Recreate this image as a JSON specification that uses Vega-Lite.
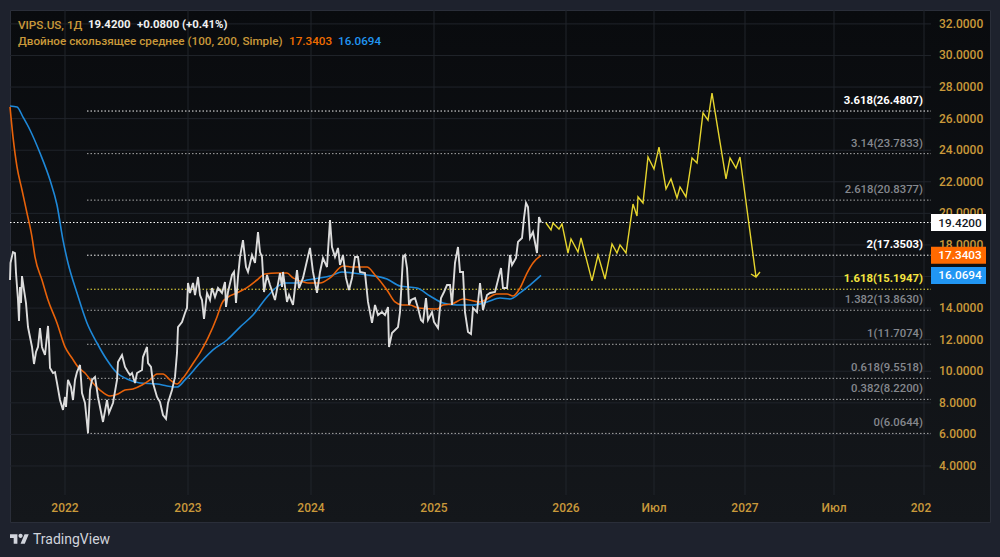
{
  "$schema": "https://vega.github.io/schema/vega-lite/v6.json",
  "width": 980,
  "height": 512,
  "autosize": {"type": "none"},
  "padding": {"left": 10, "top": 10, "right": 10, "bottom": 35},
  "background": "#1e222d",
  "view": {
    "stroke": "#2a2e39",
    "fill": {
      "gradient": "linear", "x1": 0, "y1": 0, "x2": 0, "y2": 1,
      "stops": [{"offset": 0, "color": "#090b0e"}, {"offset": 1, "color": "#14171b"}]
    }
  },
  "config": {"font": "Roboto"},
  "datasets": {
    "gridY": [{"price":4},{"price":6},{"price":8},{"price":10},{"price":12},{"price":14},{"price":16},{"price":18},{"price":20},{"price":22},{"price":24},{"price":26},{"price":28},{"price":30},{"price":32}],
    "gridX": [{"bar":110},{"bar":356},{"bar":602},{"bar":848},{"bar":1112},{"bar":1288},{"bar":1470},{"bar":1648},{"bar":1828}],
    "timeLabels": [{"bar":110,"label":"2022"},{"bar":356,"label":"2023"},{"bar":602,"label":"2024"},{"bar":848,"label":"2025"},{"bar":1112,"label":"2026"},{"bar":1288,"label":"Июл"},{"bar":1470,"label":"2027"},{"bar":1648,"label":"Июл"},{"bar":1822,"label":"202"}],
    "fib": [
      {"price":26.4807,"label":"3.618(26.4807)","tone":"bright"},
      {"price":23.7833,"label":"3.14(23.7833)","tone":"dim"},
      {"price":20.8377,"label":"2.618(20.8377)","tone":"dim"},
      {"price":17.3503,"label":"2(17.3503)","tone":"bright"},
      {"price":15.1947,"label":"1.618(15.1947)","tone":"gold"},
      {"price":13.863,"label":"1.382(13.8630)","tone":"dim"},
      {"price":11.7074,"label":"1(11.7074)","tone":"dim"},
      {"price":9.5518,"label":"0.618(9.5518)","tone":"dim"},
      {"price":8.22,"label":"0.382(8.2200)","tone":"dim"},
      {"price":6.0644,"label":"0(6.0644)","tone":"dim"}
    ],
    "last": [{"price":19.42}],
    "tags": [
      {"price":19.42,"tag":"19.4200","tone":"close"},
      {"price":17.3403,"tag":"17.3403","tone":"ma100"},
      {"price":16.0694,"tag":"16.0694","tone":"ma200"}
    ],
    "header": [
      {"bar":16,"price":31.93,"text":"VIPS.US, 1Д","tone":"gold","weight":"normal"},
      {"bar":156,"price":31.93,"text":"19.4200","tone":"white","weight":"bold"},
      {"bar":254,"price":31.93,"text":"+0.0800 (+0.41%)","tone":"white","weight":"bold"},
      {"bar":16,"price":30.92,"text":"Двойное скользящее среднее (100, 200, Simple)","tone":"gold","weight":"normal"},
      {"bar":558,"price":30.92,"text":"17.3403","tone":"orange","weight":"normal"},
      {"bar":656,"price":30.92,"text":"16.0694","tone":"blue","weight":"normal"}
    ],
    "brand": [{"bar":46,"price":-0.69,"text":"TradingView","logoBar":19,"logoPrice":-0.62}],
    "close": [
      {"bar":0,"close":15.78},{"bar":1,"close":16.86},{"bar":6,"close":17.55},{"bar":10,"close":17.49},{"bar":12,"close":16.22},{"bar":16,"close":14.51},{"bar":18,"close":13.18},{"bar":20,"close":15.34},{"bar":22,"close":14.32},{"bar":24,"close":16.03},{"bar":28,"close":15.15},{"bar":32,"close":14.32},{"bar":36,"close":12.8},{"bar":40,"close":12.17},{"bar":44,"close":11.54},{"bar":48,"close":10.46},{"bar":52,"close":11.22},{"bar":56,"close":11.54},{"bar":60,"close":12.74},{"bar":64,"close":11.54},{"bar":66,"close":11.35},{"bar":70,"close":11.03},{"bar":76,"close":12.87},{"bar":78,"close":11.79},{"bar":80,"close":10.21},{"bar":86,"close":9.89},{"bar":90,"close":9.95},{"bar":94,"close":9.26},{"bar":100,"close":8.18},{"bar":106,"close":7.55},{"bar":110,"close":8.37},{"bar":112,"close":7.74},{"bar":116,"close":9.45},{"bar":122,"close":9.0},{"bar":126,"close":8.18},{"bar":130,"close":9.45},{"bar":134,"close":9.95},{"bar":140,"close":10.4},{"bar":144,"close":8.62},{"bar":150,"close":7.99},{"bar":156,"close":6.09},{"bar":160,"close":8.81},{"bar":164,"close":9.45},{"bar":170,"close":9.64},{"bar":176,"close":8.37},{"bar":186,"close":6.79},{"bar":194,"close":8.18},{"bar":198,"close":7.36},{"bar":206,"close":7.99},{"bar":214,"close":9.45},{"bar":216,"close":10.59},{"bar":224,"close":11.03},{"bar":230,"close":10.27},{"bar":236,"close":9.95},{"bar":240,"close":9.76},{"bar":244,"close":9.89},{"bar":250,"close":9.26},{"bar":254,"close":9.89},{"bar":264,"close":10.08},{"bar":266,"close":10.9},{"bar":274,"close":11.54},{"bar":276,"close":10.52},{"bar":282,"close":10.27},{"bar":286,"close":9.26},{"bar":294,"close":8.37},{"bar":300,"close":8.05},{"bar":306,"close":7.23},{"bar":312,"close":6.98},{"bar":316,"close":7.99},{"bar":324,"close":8.81},{"bar":330,"close":9.64},{"bar":334,"close":11.16},{"bar":336,"close":12.8},{"bar":344,"close":13.12},{"bar":350,"close":13.69},{"bar":354,"close":14.01},{"bar":356,"close":15.59},{"bar":360,"close":14.96},{"bar":366,"close":15.59},{"bar":370,"close":14.83},{"bar":376,"close":15.97},{"bar":380,"close":14.83},{"bar":384,"close":14.51},{"bar":388,"close":13.31},{"bar":394,"close":14.96},{"bar":400,"close":14.51},{"bar":404,"close":15.27},{"bar":410,"close":14.7},{"bar":416,"close":15.27},{"bar":424,"close":14.96},{"bar":430,"close":15.65},{"bar":432,"close":14.07},{"bar":436,"close":15.02},{"bar":444,"close":16.1},{"bar":448,"close":16.29},{"bar":452,"close":14.32},{"bar":456,"close":15.97},{"bar":460,"close":17.24},{"bar":466,"close":18.31},{"bar":472,"close":16.6},{"bar":476,"close":16.29},{"bar":484,"close":17.36},{"bar":490,"close":16.86},{"bar":496,"close":18.82},{"bar":500,"close":17.55},{"bar":504,"close":17.24},{"bar":508,"close":15.02},{"bar":514,"close":16.1},{"bar":520,"close":15.46},{"bar":530,"close":14.51},{"bar":540,"close":16.22},{"bar":544,"close":15.34},{"bar":546,"close":16.29},{"bar":554,"close":14.39},{"bar":558,"close":14.83},{"bar":566,"close":14.2},{"bar":574,"close":16.41},{"bar":578,"close":15.27},{"bar":586,"close":15.91},{"bar":592,"close":16.73},{"bar":600,"close":17.81},{"bar":606,"close":16.29},{"bar":614,"close":14.96},{"bar":620,"close":16.29},{"bar":626,"close":17.17},{"bar":634,"close":16.6},{"bar":640,"close":19.58},{"bar":644,"close":17.87},{"bar":650,"close":17.24},{"bar":656,"close":17.81},{"bar":660,"close":16.73},{"bar":666,"close":17.36},{"bar":672,"close":15.91},{"bar":678,"close":15.15},{"bar":684,"close":15.91},{"bar":690,"close":17.24},{"bar":696,"close":17.24},{"bar":700,"close":16.29},{"bar":710,"close":16.22},{"bar":716,"close":14.39},{"bar":724,"close":13.06},{"bar":730,"close":14.2},{"bar":736,"close":13.56},{"bar":744,"close":13.75},{"bar":750,"close":13.56},{"bar":756,"close":14.07},{"bar":758,"close":11.54},{"bar":764,"close":12.42},{"bar":776,"close":12.8},{"bar":780,"close":13.75},{"bar":786,"close":17.24},{"bar":790,"close":17.36},{"bar":794,"close":16.54},{"bar":796,"close":15.46},{"bar":798,"close":14.2},{"bar":802,"close":14.51},{"bar":810,"close":14.64},{"bar":816,"close":14.01},{"bar":822,"close":13.25},{"bar":826,"close":13.12},{"bar":832,"close":14.64},{"bar":836,"close":13.25},{"bar":844,"close":13.75},{"bar":848,"close":13.12},{"bar":856,"close":12.74},{"bar":862,"close":14.64},{"bar":868,"close":15.02},{"bar":874,"close":15.46},{"bar":880,"close":15.46},{"bar":884,"close":14.2},{"bar":890,"close":16.86},{"bar":896,"close":17.87},{"bar":900,"close":16.29},{"bar":906,"close":16.29},{"bar":910,"close":13.75},{"bar":916,"close":12.49},{"bar":922,"close":12.36},{"bar":926,"close":14.01},{"bar":934,"close":13.75},{"bar":940,"close":15.59},{"bar":946,"close":13.88},{"bar":954,"close":14.83},{"bar":960,"close":14.96},{"bar":970,"close":15.02},{"bar":982,"close":16.54},{"bar":986,"close":15.27},{"bar":994,"close":15.27},{"bar":1000,"close":17.36},{"bar":1004,"close":16.73},{"bar":1012,"close":17.17},{"bar":1016,"close":18.19},{"bar":1024,"close":18.44},{"bar":1028,"close":19.71},{"bar":1032,"close":20.66},{"bar":1036,"close":20.4},{"bar":1040,"close":18.44},{"bar":1046,"close":18.82},{"bar":1054,"close":17.49},{"bar":1058,"close":19.77},{"bar":1062,"close":19.42}
    ],
    "ma100": [
      {"bar":0,"ma":26.74},{"bar":6,"ma":24.84},{"bar":14,"ma":22.94},{"bar":24,"ma":21.48},{"bar":34,"ma":20.02},{"bar":44,"ma":18.5},{"bar":50,"ma":17.24},{"bar":64,"ma":15.78},{"bar":76,"ma":14.51},{"bar":94,"ma":13.06},{"bar":110,"ma":11.54},{"bar":124,"ma":10.84},{"bar":136,"ma":10.27},{"bar":150,"ma":9.89},{"bar":164,"ma":9.32},{"bar":180,"ma":8.81},{"bar":200,"ma":8.43},{"bar":216,"ma":8.56},{"bar":230,"ma":8.81},{"bar":246,"ma":8.88},{"bar":264,"ma":9.13},{"bar":280,"ma":9.45},{"bar":294,"ma":9.83},{"bar":306,"ma":9.83},{"bar":320,"ma":9.45},{"bar":334,"ma":9.19},{"bar":346,"ma":9.57},{"bar":364,"ma":10.4},{"bar":380,"ma":11.16},{"bar":396,"ma":12.11},{"bar":414,"ma":13.44},{"bar":424,"ma":14.32},{"bar":436,"ma":14.7},{"bar":454,"ma":14.96},{"bar":476,"ma":15.34},{"bar":494,"ma":15.78},{"bar":510,"ma":16.16},{"bar":534,"ma":16.22},{"bar":554,"ma":16.22},{"bar":566,"ma":15.91},{"bar":580,"ma":15.72},{"bar":596,"ma":15.59},{"bar":620,"ma":15.59},{"bar":640,"ma":15.91},{"bar":666,"ma":16.67},{"bar":686,"ma":16.6},{"bar":714,"ma":16.6},{"bar":730,"ma":16.1},{"bar":754,"ma":15.15},{"bar":770,"ma":14.39},{"bar":784,"ma":14.2},{"bar":800,"ma":14.2},{"bar":816,"ma":14.01},{"bar":854,"ma":13.94},{"bar":866,"ma":14.2},{"bar":884,"ma":14.26},{"bar":906,"ma":14.58},{"bar":940,"ma":14.39},{"bar":974,"ma":14.89},{"bar":994,"ma":14.89},{"bar":1006,"ma":14.77},{"bar":1020,"ma":15.27},{"bar":1034,"ma":16.22},{"bar":1046,"ma":16.86},{"bar":1062,"ma":17.34}
    ],
    "ma200": [
      {"bar":0,"ma":26.8},{"bar":14,"ma":26.74},{"bar":26,"ma":26.1},{"bar":40,"ma":25.28},{"bar":60,"ma":23.82},{"bar":80,"ma":22.11},{"bar":94,"ma":20.53},{"bar":106,"ma":18.31},{"bar":116,"ma":16.86},{"bar":134,"ma":14.96},{"bar":154,"ma":13.06},{"bar":174,"ma":11.79},{"bar":194,"ma":10.71},{"bar":214,"ma":9.89},{"bar":234,"ma":9.51},{"bar":260,"ma":9.26},{"bar":294,"ma":9.19},{"bar":314,"ma":9.07},{"bar":334,"ma":9.0},{"bar":350,"ma":9.45},{"bar":380,"ma":10.52},{"bar":406,"ma":11.35},{"bar":434,"ma":11.98},{"bar":460,"ma":12.8},{"bar":486,"ma":13.56},{"bar":514,"ma":14.7},{"bar":534,"ma":15.34},{"bar":550,"ma":15.59},{"bar":574,"ma":15.59},{"bar":594,"ma":15.78},{"bar":620,"ma":15.91},{"bar":640,"ma":16.03},{"bar":664,"ma":16.29},{"bar":686,"ma":16.22},{"bar":714,"ma":16.1},{"bar":754,"ma":15.84},{"bar":780,"ma":15.4},{"bar":814,"ma":15.27},{"bar":840,"ma":14.77},{"bar":866,"ma":14.32},{"bar":894,"ma":14.2},{"bar":926,"ma":14.2},{"bar":954,"ma":14.39},{"bar":980,"ma":14.64},{"bar":1000,"ma":14.58},{"bar":1020,"ma":14.96},{"bar":1040,"ma":15.46},{"bar":1062,"ma":16.07}
    ],
    "projection": [
      {"bar":1072,"price":19.39},{"bar":1082,"price":18.95},{"bar":1086,"price":19.39},{"bar":1098,"price":19.01},{"bar":1104,"price":19.33},{"bar":1116,"price":17.49},{"bar":1122,"price":18.38},{"bar":1136,"price":17.55},{"bar":1142,"price":18.44},{"bar":1164,"price":15.72},{"bar":1176,"price":17.36},{"bar":1190,"price":15.84},{"bar":1204,"price":18.06},{"bar":1214,"price":17.49},{"bar":1220,"price":18.0},{"bar":1232,"price":17.49},{"bar":1246,"price":20.59},{"bar":1254,"price":19.83},{"bar":1256,"price":21.04},{"bar":1266,"price":20.66},{"bar":1276,"price":23.57},{"bar":1288,"price":22.81},{"bar":1298,"price":24.2},{"bar":1312,"price":21.54},{"bar":1322,"price":22.18},{"bar":1334,"price":20.97},{"bar":1340,"price":21.67},{"bar":1352,"price":21.04},{"bar":1364,"price":23.51},{"bar":1374,"price":23.19},{"bar":1386,"price":26.36},{"bar":1396,"price":25.91},{"bar":1404,"price":27.62},{"bar":1432,"price":22.18},{"bar":1440,"price":23.51},{"bar":1452,"price":22.87},{"bar":1460,"price":23.57},{"bar":1492,"price":15.97},{"bar":1482,"price":16.16},{"bar":1492,"price":15.97},{"bar":1500,"price":16.29}
    ]
  },
  "layer": [
    {
      "data": {"name": "gridY"},
      "mark": {"type": "rule", "color": "#20242b", "strokeWidth": 1},
      "encoding": {
        "x": {"datum": 0, "type": "quantitative", "axis": null, "scale": {"domain": [0, 1960], "nice": false, "zero": false}},
        "x2": {"datum": 1842},
        "y": {"field": "price", "type": "quantitative", "axis": null, "scale": {"domain": [0.453, 32.88], "nice": false, "zero": false}}
      }
    },
    {
      "data": {"name": "gridX"},
      "mark": {"type": "rule", "color": "#20242b", "strokeWidth": 1},
      "encoding": {
        "x": {"field": "bar", "type": "quantitative", "axis": null},
        "y": {"datum": 32.88, "type": "quantitative", "axis": null},
        "y2": {"datum": 2.16}
      }
    },
    {
      "data": {"name": "gridY"},
      "mark": {"type": "text", "align": "left", "fontSize": 12, "fontWeight": 500, "color": "#c9993a"},
      "encoding": {
        "x": {"datum": 1858, "type": "quantitative", "axis": null},
        "y": {"field": "price", "type": "quantitative", "axis": null},
        "text": {"field": "price", "type": "quantitative", "format": ".4f"}
      }
    },
    {
      "data": {"name": "timeLabels"},
      "mark": {"type": "text", "align": "center", "fontSize": 12, "fontWeight": 500, "color": "#c9993a"},
      "encoding": {
        "x": {"field": "bar", "type": "quantitative", "axis": null},
        "y": {"datum": 1.34, "type": "quantitative", "axis": null},
        "text": {"field": "label"}
      }
    },
    {
      "data": {"name": "fib"},
      "mark": {"type": "rule", "strokeWidth": 1, "strokeDash": [1.5, 2]},
      "encoding": {
        "x": {"datum": 154, "type": "quantitative", "axis": null},
        "x2": {"datum": 1842},
        "y": {"field": "price", "type": "quantitative", "axis": null},
        "color": {"field": "tone", "type": "nominal", "legend": null,
          "scale": {"domain": ["bright", "dim", "gold"], "range": ["#f0f0f0", "#a8a8a8", "#f2e23e"]}}
      }
    },
    {
      "data": {"name": "last"},
      "mark": {"type": "rule", "color": "#ffffff", "strokeWidth": 1, "strokeDash": [1.5, 2]},
      "encoding": {
        "x": {"datum": 0, "type": "quantitative", "axis": null},
        "x2": {"datum": 1842},
        "y": {"field": "price", "type": "quantitative", "axis": null}
      }
    },
    {
      "data": {"name": "ma200"},
      "mark": {"type": "line", "color": "#1e88d8", "strokeWidth": 1.6, "interpolate": "monotone"},
      "encoding": {
        "x": {"field": "bar", "type": "quantitative", "axis": null},
        "y": {"field": "ma", "type": "quantitative", "axis": null}
      }
    },
    {
      "data": {"name": "ma100"},
      "mark": {"type": "line", "color": "#e8620a", "strokeWidth": 1.6, "interpolate": "monotone"},
      "encoding": {
        "x": {"field": "bar", "type": "quantitative", "axis": null},
        "y": {"field": "ma", "type": "quantitative", "axis": null}
      }
    },
    {
      "data": {"name": "close"},
      "mark": {"type": "line", "color": "#dcdcdc", "strokeWidth": 1.9},
      "encoding": {
        "x": {"field": "bar", "type": "quantitative", "axis": null},
        "y": {"field": "close", "type": "quantitative", "axis": null}
      }
    },
    {
      "data": {"name": "projection"},
      "mark": {"type": "line", "color": "#e6d52e", "strokeWidth": 1.4},
      "encoding": {
        "x": {"field": "bar", "type": "quantitative", "axis": null},
        "y": {"field": "price", "type": "quantitative", "axis": null},
        "order": {"value": null}
      }
    },
    {
      "data": {"name": "fib"},
      "transform": [{"filter": "datum.tone != 'dim'"}],
      "mark": {"type": "text", "align": "right", "dy": -10, "fontSize": 11.3, "fontWeight": "bold"},
      "encoding": {
        "x": {"datum": 1826, "type": "quantitative", "axis": null},
        "y": {"field": "price", "type": "quantitative", "axis": null},
        "text": {"field": "label"},
        "color": {"field": "tone", "type": "nominal", "legend": null,
          "scale": {"domain": ["bright", "gold"], "range": ["#ffffff", "#f5e53f"]}}
      }
    },
    {
      "data": {"name": "fib"},
      "transform": [{"filter": "datum.tone == 'dim'"}],
      "mark": {"type": "text", "align": "right", "dy": -10, "fontSize": 11.3, "fontWeight": 500, "color": "#85888e"},
      "encoding": {
        "x": {"datum": 1826, "type": "quantitative", "axis": null},
        "y": {"field": "price", "type": "quantitative", "axis": null},
        "text": {"field": "label"}
      }
    },
    {
      "data": {"name": "tags"},
      "mark": {"type": "rule", "strokeWidth": 17},
      "encoding": {
        "x": {"datum": 1842, "type": "quantitative", "axis": null},
        "x2": {"datum": 1952},
        "y": {"field": "price", "type": "quantitative", "axis": null},
        "color": {"field": "tone", "type": "nominal", "legend": null,
          "scale": {"domain": ["close", "ma100", "ma200"], "range": ["#ffffff", "#ff6a00", "#2196f3"]}}
      }
    },
    {
      "data": {"name": "tags"},
      "mark": {"type": "text", "align": "center", "fontSize": 11.8, "fontWeight": 500},
      "encoding": {
        "x": {"datum": 1900, "type": "quantitative", "axis": null},
        "y": {"field": "price", "type": "quantitative", "axis": null},
        "text": {"field": "tag"},
        "color": {"field": "tone", "type": "nominal", "legend": null,
          "scale": {"domain": ["close", "ma100", "ma200"], "range": ["#131722", "#ffffff", "#ffffff"]}}
      }
    },
    {
      "data": {"name": "header"},
      "transform": [{"filter": "datum.weight == 'normal'"}],
      "mark": {"type": "text", "align": "left", "fontSize": 11.7, "fontWeight": 500},
      "encoding": {
        "x": {"field": "bar", "type": "quantitative", "axis": null},
        "y": {"field": "price", "type": "quantitative", "axis": null},
        "text": {"field": "text"},
        "color": {"field": "tone", "type": "nominal", "legend": null,
          "scale": {"domain": ["gold", "orange", "blue"], "range": ["#c9993a", "#ef6c00", "#2196f3"]}}
      }
    },
    {
      "data": {"name": "header"},
      "transform": [{"filter": "datum.weight == 'bold'"}],
      "mark": {"type": "text", "align": "left", "fontSize": 11.4, "fontWeight": "bold", "color": "#f0f0f0"},
      "encoding": {
        "x": {"field": "bar", "type": "quantitative", "axis": null},
        "y": {"field": "price", "type": "quantitative", "axis": null},
        "text": {"field": "text"}
      }
    },
    {
      "data": {"name": "brand"},
      "mark": {"type": "text", "align": "left", "fontSize": 14, "color": "#d1d4dc"},
      "encoding": {
        "x": {"field": "bar", "type": "quantitative", "axis": null},
        "y": {"field": "price", "type": "quantitative", "axis": null},
        "text": {"field": "text"}
      }
    },
    {
      "data": {"name": "brand"},
      "mark": {
        "type": "point", "filled": true, "opacity": 1, "color": "#d1d4dc", "size": 361,
        "shape": "M-0.222,0.5H-0.612V-0.112H-1V-0.5H-0.222ZM0.556,0.5H0.112L0.528,-0.5H0.972ZM-0.11,-0.334a0.222,0.222 0 1,0 0.444,0a0.222,0.222 0 1,0 -0.444,0Z"
      },
      "encoding": {
        "x": {"field": "logoBar", "type": "quantitative", "axis": null},
        "y": {"field": "logoPrice", "type": "quantitative", "axis": null}
      }
    }
  ],
  "resolve": {"scale": {"color": "independent"}}
}
